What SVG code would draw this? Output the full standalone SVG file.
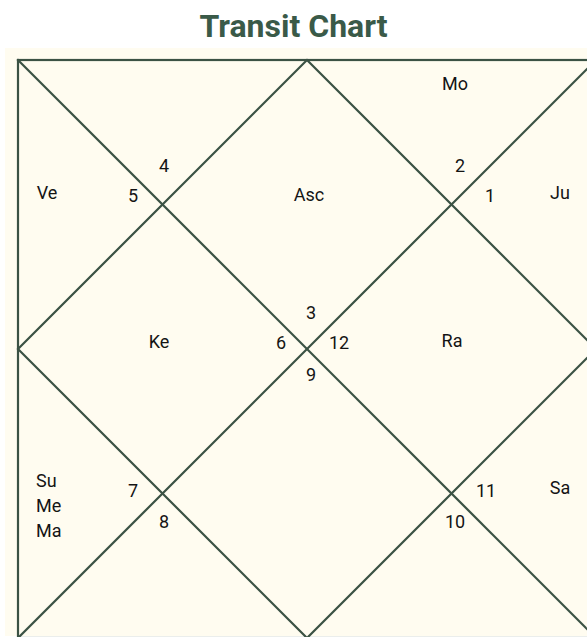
<svg xmlns="http://www.w3.org/2000/svg" width="587" height="637" viewBox="0 0 587 637">
<style>
.t{font-family:Roboto,"Liberation Sans",sans-serif;font-size:18px;fill:#141414;text-anchor:middle;dominant-baseline:central}
.s{text-anchor:start}
.l{stroke:#3b5244;stroke-width:2.2;fill:none;stroke-linecap:square}
.title{font-family:Roboto,"Liberation Sans",sans-serif;font-size:32px;font-weight:bold;fill:#3a5a48;text-anchor:middle}
</style>
<rect x="0" y="0" width="587" height="637" fill="#ffffff"/>
<text class="title" x="293.5" y="37">Transit Chart</text>
<rect x="5" y="48" width="590" height="588" fill="#fffcf0"/>
<g id="connectors">
<rect class="l" x="18" y="60" width="578" height="578"/>
<line class="l" x1="18" y1="60" x2="596" y2="638"/>
<line class="l" x1="596" y1="60" x2="18" y2="638"/>
<polygon class="l" points="307,60 596,349 307,638 18,349"/>
</g>
<g id="house1"><text class="t" x="490" y="195">1</text><text class="t" x="560" y="192">Ju</text></g>
<g id="house2"><text class="t" x="460" y="165">2</text><text class="t" x="455" y="83">Mo</text></g>
<g id="house3"><text class="t" x="311" y="312">3</text><text class="t" x="309" y="194">Asc</text></g>
<g id="house4"><text class="t" x="164" y="165">4</text></g>
<g id="house5"><text class="t" x="133" y="195">5</text><text class="t" x="47" y="192">Ve</text></g>
<g id="house6"><text class="t" x="281" y="342">6</text><text class="t" x="159" y="341">Ke</text></g>
<g id="house7"><text class="t" x="133" y="490">7</text><text class="t s" x="36" y="480">Su</text><text class="t s" x="36" y="505">Me</text><text class="t s" x="36" y="530">Ma</text></g>
<g id="house8"><text class="t" x="164" y="521">8</text></g>
<g id="house9"><text class="t" x="311" y="374">9</text></g>
<g id="house10"><text class="t" x="455" y="521">10</text></g>
<g id="house11"><text class="t" x="486" y="490">11</text><text class="t" x="560" y="487">Sa</text></g>
<g id="house12"><text class="t" x="339" y="342">12</text><text class="t" x="452" y="340">Ra</text></g>
</svg>
